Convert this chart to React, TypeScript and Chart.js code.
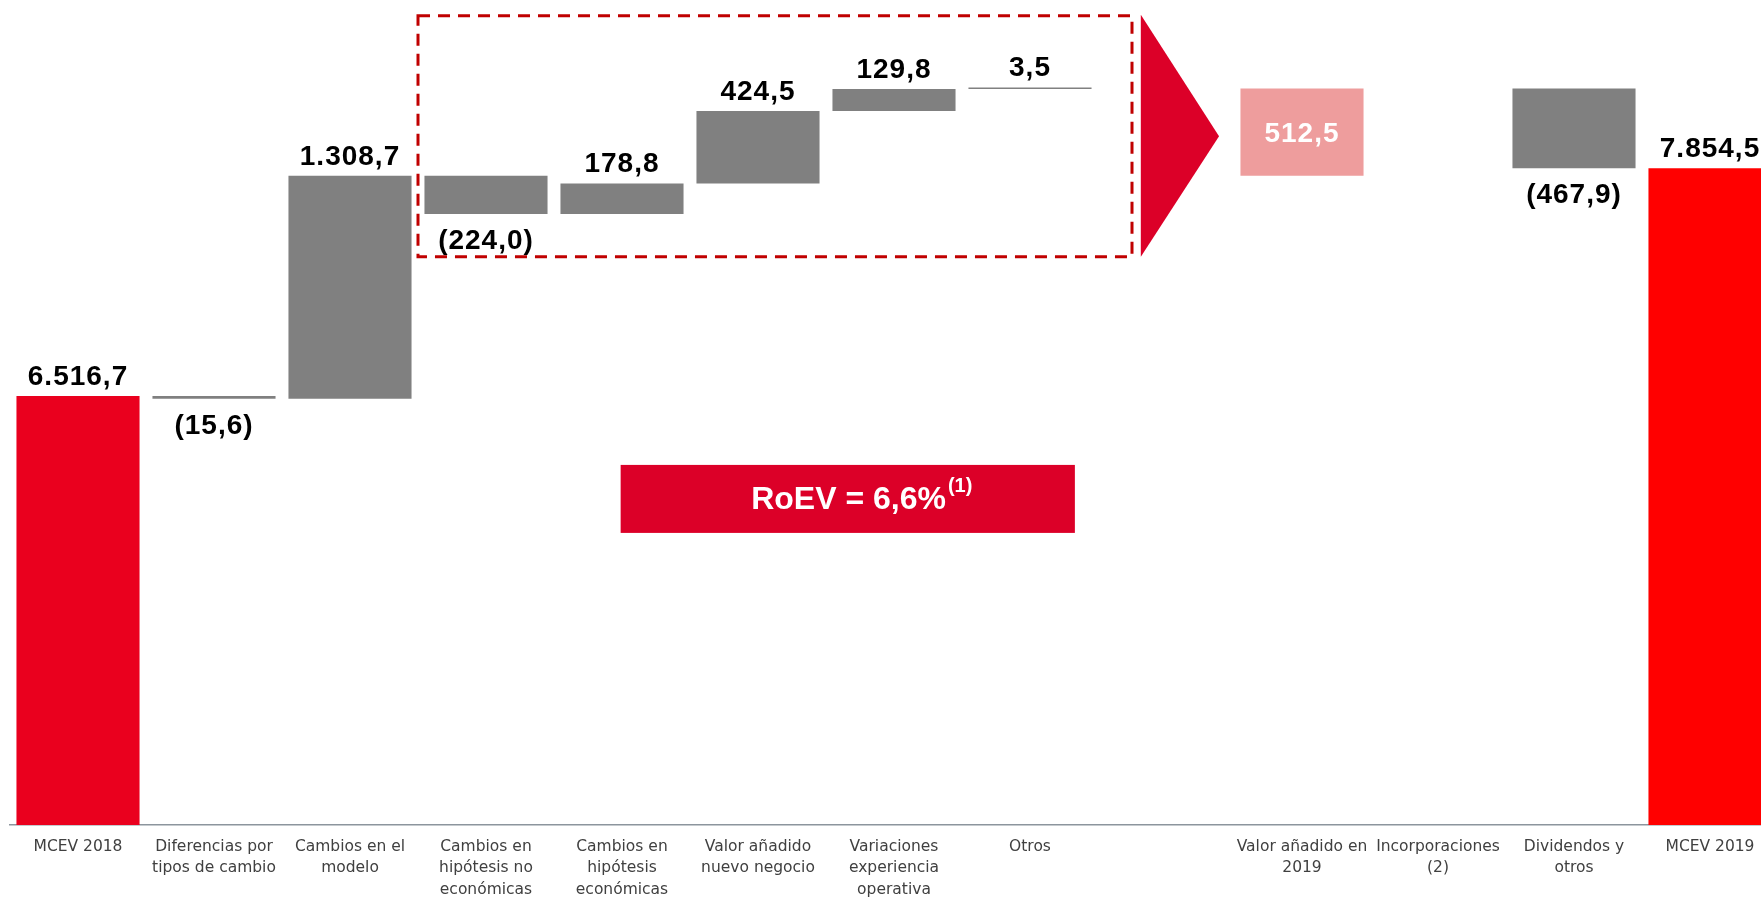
import React, { useEffect, useRef } from 'react';
import { Chart, registerables } from 'chart.js';

Chart.register(...registerables);

// ---------- data ----------
const categories: (string | string[])[] = [
  'MCEV 2018',
  ['Diferencias por', 'tipos de cambio'],
  ['Cambios en el', 'modelo'],
  ['Cambios en', 'hipótesis no', 'económicas'],
  ['Cambios en', 'hipótesis', 'económicas'],
  ['Valor añadido', 'nuevo negocio'],
  ['Variaciones', 'experiencia', 'operativa'],
  'Otros',
  '',
  ['Valor añadido en', '2019'],
  ['Incorporaciones', '(2)'],
  ['Dividendos y', 'otros'],
  'MCEV 2019',
];

const startValue = 6516.7; // MCEV 2018
const stepValues = [-15.6, 1308.7, -224.0, 178.8, 424.5, 129.8, 3.5]; // indices 1..7
const addedValue2019 = 512.5; // Valor añadido en 2019
const incorporaciones = 0.0; // Incorporaciones (2)
const dividendos = -467.9; // Dividendos y otros
const endValue = 7854.5; // MCEV 2019
const roevText = 'RoEV = 6,6%';
const roevNote = '(1)';

const yAxisMin = 4000;
const yAxisMax = 8800;

// ---------- derived table ----------
const RED_START = '#EA001E';
const RED_END = '#FF0000';
const GREY = '#808080';
const PINK = '#EE9D9D';
const DARK_RED = '#DC0028';
const DASH_RED = '#C00000';

type Range = [number, number] | number | null;
const barData: Range[] = [];
const labelValues: (number | null)[] = [];
const barColors: string[] = [];

barData.push(startValue);
labelValues.push(startValue);
barColors.push(RED_START);

let running = startValue;
const runningAfter: number[] = [startValue];
stepValues.forEach((v) => {
  barData.push([running, running + v]);
  labelValues.push(v);
  barColors.push(GREY);
  running += v;
  runningAfter.push(running);
});
// blank gap
barData.push(null);
labelValues.push(null);
barColors.push('rgba(0,0,0,0)');
// added value 2019 (sum of indices 3..7), starts from level after index 2
const addedBase = runningAfter[2];
barData.push([addedBase, addedBase + addedValue2019]);
labelValues.push(addedValue2019);
barColors.push(PINK);
// incorporaciones
barData.push(incorporaciones === 0 ? null : [running, running + incorporaciones]);
labelValues.push(incorporaciones === 0 ? null : incorporaciones);
barColors.push(GREY);
running += incorporaciones;
// dividendos
barData.push([running, running + dividendos]);
labelValues.push(dividendos);
barColors.push(GREY);
// MCEV 2019
barData.push(endValue);
labelValues.push(endValue);
barColors.push(RED_END);

const fmt = (v: number): string => {
  const [i, d] = Math.abs(v).toFixed(1).split('.');
  const int = i.replace(/\B(?=(\d{3})+(?!\d))/g, '.');
  const s = `${int},${d}`;
  return v < 0 ? `(${s})` : s;
};

const LABEL_FONT = 'bold 28px "Liberation Sans", Arial, sans-serif';

const waterfallPlugin = {
  id: 'waterfallDecor',
  afterDatasetsDraw(chart: any) {
    const ctx: CanvasRenderingContext2D = chart.ctx;
    const xs = chart.scales.x;
    const ys = chart.scales.y;
    const px = (i: number) => xs.getPixelForValue(i);
    const step = px(1) - px(0);
    const meta = chart.getDatasetMeta(0);

    ctx.save();
    // dashed highlight rectangle around indices 3..7
    const rLeft = (px(2) + px(3)) / 2;
    const rRight = px(7) + 0.75 * step;
    const rTop = ys.getPixelForValue(8748);
    const rBottom = ys.getPixelForValue(7334);
    ctx.strokeStyle = DASH_RED;
    ctx.lineWidth = 3;
    ctx.setLineDash([12, 8]);
    ctx.strokeRect(rLeft, rTop, rRight - rLeft, rBottom - rTop);
    ctx.setLineDash([]);

    // arrow triangle
    const tLeft = px(7) + 0.815 * step;
    const tTip = px(8) + 0.39 * step;
    ctx.fillStyle = DARK_RED;
    ctx.beginPath();
    ctx.moveTo(tLeft, rTop - 1);
    ctx.lineTo(tTip, (rTop + rBottom) / 2);
    ctx.lineTo(tLeft, rBottom);
    ctx.closePath();
    ctx.fill();

    // RoEV box
    const bLeft = px(4) - 0.01 * step;
    const bRight = px(7) + 0.33 * step;
    const bTop = ys.getPixelForValue(6113);
    const bBottom = ys.getPixelForValue(5714);
    ctx.fillStyle = DARK_RED;
    ctx.fillRect(bLeft, bTop, bRight - bLeft, bBottom - bTop);
    ctx.fillStyle = '#FFFFFF';
    ctx.textBaseline = 'alphabetic';
    ctx.textAlign = 'left';
    ctx.font = 'bold 32px "Liberation Sans", Arial, sans-serif';
    const w1 = ctx.measureText(roevText).width;
    ctx.font = 'bold 20px "Liberation Sans", Arial, sans-serif';
    const w2 = ctx.measureText(roevNote).width;
    const groupW = w1 + 2 + w2;
    const startX = (bLeft + bRight) / 2 + 14 - groupW / 2;
    const baseY = bBottom - 24;
    ctx.font = 'bold 32px "Liberation Sans", Arial, sans-serif';
    ctx.fillText(roevText, startX, baseY);
    ctx.font = 'bold 20px "Liberation Sans", Arial, sans-serif';
    ctx.fillText(roevNote, startX + w1 + 2, baseY - 17);

    // value labels
    ctx.font = LABEL_FONT;
    try { (ctx as any).letterSpacing = '1px'; } catch (e) { /* ignore */ }
    ctx.textAlign = 'center';
    ctx.textBaseline = 'alphabetic';
    labelValues.forEach((v, i) => {
      if (v === null) return;
      const el = meta.data[i];
      if (!el) return;
      const top = Math.min(el.y, el.base);
      const bottom = Math.max(el.y, el.base);
      const text = fmt(v);
      if (i === 9) {
        ctx.fillStyle = '#FFFFFF';
        ctx.fillText(text, el.x, (top + bottom) / 2 + 10);
      } else if (v >= 0) {
        ctx.fillStyle = '#000000';
        ctx.fillText(text, el.x, top - 11);
      } else {
        ctx.fillStyle = '#000000';
        ctx.fillText(text, el.x, bottom + 35);
      }
    });
    ctx.restore();
  },
};

export default function App() {
  const canvasRef = useRef<HTMLCanvasElement | null>(null);

  useEffect(() => {
    const canvas = canvasRef.current;
    if (!canvas) return;
    const chart = new Chart(canvas, {
      type: 'bar',
      data: {
        labels: categories as any,
        datasets: [
          {
            data: barData as any,
            backgroundColor: barColors,
            borderWidth: 0,
            minBarLength: 1.5,
            categoryPercentage: 1,
            barPercentage: 0.905,
          },
        ],
      },
      options: {
        responsive: false,
        animation: false,
        devicePixelRatio: 1,
        layout: { padding: { left: 10, right: 2, top: 7, bottom: 0 } },
        plugins: {
          legend: { display: false },
          tooltip: { enabled: false },
          title: { display: false },
        },
        scales: {
          y: {
            display: false,
            min: yAxisMin,
            max: yAxisMax,
          },
          x: {
            grid: { display: false, drawTicks: false },
            border: { display: true, color: '#8C959D', width: 1.5 },
            ticks: {
              autoSkip: false,
              maxRotation: 0,
              minRotation: 0,
              padding: 11,
              color: '#404040',
              font: { family: '"DejaVu Sans", Verdana, sans-serif', size: 15.5, lineHeight: 1.38 },
            },
            afterFit: (scale: any) => {
              scale.height = 74;
            },
          },
        },
      },
      plugins: [waterfallPlugin],
    });
    return () => chart.destroy();
  }, []);

  return (
    <div
      style={{
        position: 'fixed',
        left: 0,
        top: 0,
        width: 1761,
        height: 899,
        overflow: 'hidden',
        background: '#FFFFFF',
      }}
    >
      <canvas ref={canvasRef} width={1780} height={899} style={{ display: 'block', width: 1780, height: 899 }} />
    </div>
  );
}
